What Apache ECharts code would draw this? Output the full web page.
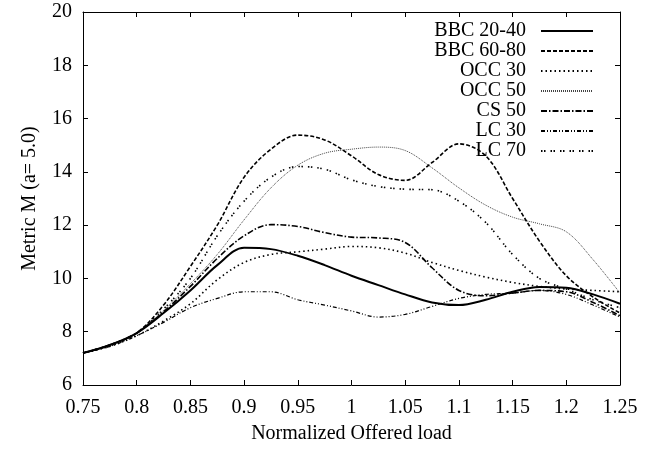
<!DOCTYPE html>
<html>
<head>
<meta charset="utf-8">
<script src="https://cdn.jsdelivr.net/npm/echarts@6/dist/echarts.min.js"></script>
<style>html,body{margin:0;padding:0;background:#fff}#c{width:657px;height:451px}</style>
</head>
<body>
<div id="c"></div>
<script>
const xValues = [0.75,0.775,0.8,0.825,0.85,0.875,0.9,0.925,0.95,0.975,1.0,1.025,1.05,1.075,1.1,1.125,1.15,1.175,1.2,1.225,1.25];
const bbc2040 = [7.2,7.5,7.95,8.7,9.55,10.5,11.15,11.1,10.85,10.5,10.1,9.75,9.4,9.1,9.0,9.2,9.5,9.68,9.65,9.4,9.05];
const bbc6080 = [7.2,7.5,7.95,9.0,10.45,12.0,13.8,14.85,15.38,15.2,14.6,13.9,13.68,14.35,15.05,14.6,13.0,11.4,10.1,9.3,8.7];
const occ30   = [7.2,7.45,7.85,8.4,9.05,9.95,10.6,10.9,11.0,11.1,11.2,11.15,10.95,10.6,10.3,10.05,9.85,9.7,9.6,9.55,9.5];
const occ50   = [7.2,7.5,7.95,8.8,9.8,10.9,12.2,13.4,14.25,14.7,14.85,14.93,14.8,14.15,13.4,12.75,12.3,12.05,11.75,10.7,9.45];
const cs50    = [7.2,7.5,7.95,8.75,9.7,10.75,11.6,12.02,11.95,11.72,11.55,11.52,11.35,10.4,9.55,9.35,9.45,9.55,9.5,9.1,8.6];
const lc30    = [7.2,7.45,7.85,8.35,8.9,9.25,9.5,9.5,9.2,9.0,8.78,8.55,8.65,8.95,9.25,9.4,9.45,9.55,9.4,9.0,8.55];
const lc70    = [7.2,7.5,7.95,8.85,10.0,11.6,12.9,13.8,14.2,14.1,13.7,13.45,13.35,13.33,12.9,12.1,10.9,10.0,9.6,9.2,8.9];
const seriesNames = ['BBC 20-40','BBC 60-80','OCC 30','OCC 50','CS 50','LC 30','LC 70'];
const yTicks = [6,8,10,12,14,16,18,20];

const FONT = 'Liberation Serif';
const dataSets = [bbc2040, bbc6080, occ30, occ50, cs50, lc30, lc70];
const styles = [
  {width:2, type:'solid', color:'#000'},
  {width:1.6, type:[4,2], color:'#000'},
  {width:1.6, type:[1.5,3], color:'#000'},
  {width:1, type:[1,1], color:'#444'},
  {width:1.6, type:[6,2,1.5,2], color:'#000'},
  {width:1.2, type:[4,2,1,2,1,2], color:'#000'},
  {width:1.6, type:[1.5,1.5,1.5,5], color:'#000'}
];
const series = dataSets.map((d,i)=>({
  name: seriesNames[i],
  type:'line',
  smooth: 0.35,
  symbol:'none',
  data: d.map((v,j)=>[xValues[j], v]),
  lineStyle: styles[i],
  itemStyle: {color: styles[i].color},
  emphasis: {disabled: true},
  z: 10 - i
}));

const axisCommon = {
  axisLine:{show:true, onZero:false, lineStyle:{color:'#000', width:1}},
  axisTick:{show:true, inside:true, length:5, lineStyle:{color:'#000'}},
  splitLine:{show:false}
};
const fmt = v => String(+v.toFixed(2));

const chart = echarts.init(document.getElementById('c'), null, {renderer:'canvas'});
chart.setOption({
  animation:false,
  backgroundColor:'#fff',
  grid:{left:83, right:37, top:12, bottom:66, containLabel:false},
  xAxis:[
    Object.assign({type:'value', min:0.75, max:1.25, interval:0.05, position:'bottom',
      name:'Normalized Offered load', nameLocation:'middle', nameGap:39,
      nameTextStyle:{fontFamily:FONT, fontSize:20, color:'#000'},
      axisLabel:{formatter:fmt, fontFamily:FONT, fontSize:20, color:'#000', margin:13}}, axisCommon),
    Object.assign({type:'value', min:0.75, max:1.25, interval:0.05, position:'top',
      axisLabel:{show:false}}, axisCommon)
  ],
  yAxis:[
    Object.assign({type:'value', min:yTicks[0], max:yTicks[yTicks.length-1], interval:2, position:'left',
      name:'Metric M (a= 5.0)', nameLocation:'middle', nameGap:43,
      nameTextStyle:{fontFamily:FONT, fontSize:20, color:'#000'},
      axisLabel:{fontFamily:FONT, fontSize:20, color:'#000', margin:11}}, axisCommon),
    Object.assign({type:'value', min:yTicks[0], max:yTicks[yTicks.length-1], interval:2, position:'right',
      axisLabel:{show:false}}, axisCommon)
  ],
  legend:{
    orient:'vertical', align:'right', right:63, top:21, padding:0,
    itemWidth:52, itemHeight:14, itemGap:0,
    data: seriesNames,
    selectedMode:false,
    itemStyle:{opacity:0, color:'transparent', borderWidth:0},
    textStyle:{fontFamily:FONT, fontSize:20, color:'#000', width:110, align:'right', padding:[0,10,0,0]}
  },
  series: series
});
</script>
</body>
</html>
